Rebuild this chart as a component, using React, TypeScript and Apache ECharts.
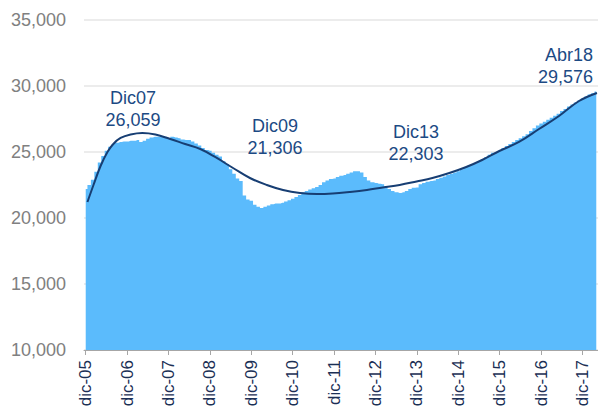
import React, { useEffect, useRef } from "react";
import * as echarts from "echarts";

// Year tick labels (every 12 months, starting at dic-05)
const tickLabels = [
  "dic-05", "dic-06", "dic-07", "dic-08", "dic-09", "dic-10", "dic-11",
  "dic-12", "dic-13", "dic-14", "dic-15", "dic-16", "dic-17",
];

// Monthly values, dic-05 .. abr-18 (149 months)
const monthlyValues = [
  22200, 22500, 22900, 23500, 24200, 24700, 25100, 25400, 25600, 25700, 25750, 25800,
  25800, 25850, 25850, 25900, 25750, 25850, 26000, 26100, 26150, 26150, 26200, 26150,
  26059, 26150, 26100, 26050, 25950, 25900, 25900, 25800, 25650, 25500, 25300, 25150,
  25100, 24950, 24800, 24650, 24300, 24100, 23700, 23350, 23000, 22800, 21700, 21400,
  21306, 21000, 20850, 20750, 20850, 20950, 21050, 21100, 21100, 21150, 21250, 21350,
  21450, 21600, 21750, 21950, 22050, 22150, 22250, 22350, 22500, 22700, 22850, 22950,
  23000, 23100, 23200, 23250, 23350, 23450, 23550, 23550, 23450, 23100, 22850, 22700,
  22650, 22600, 22550, 22400, 22200, 22050, 21950, 21900, 21950, 22050, 22200, 22300,
  22303, 22550, 22650, 22750, 22800, 22850, 22950, 23050, 23150, 23250, 23350, 23450,
  23550, 23700, 23850, 23950, 24050, 24150, 24300, 24450, 24600, 24800, 24950, 25000,
  25100, 25300, 25450, 25600, 25750, 25900, 26050, 26200, 26350, 26600, 26800, 27000,
  27150, 27300, 27450, 27600, 27750, 27900, 28100, 28250, 28450, 28600, 28750, 28900,
  29050, 29200, 29350, 29450, 29576,
];

// Trend line (polynomial-like fit) sampled at month positions
const trendMonths = [
  0.5, 2.25, 4.3, 6.3, 8.0, 10.1, 13.0, 16.4, 20.2, 24.5, 28.8, 33.2, 37.5, 42.7,
  47.6, 52.5, 57.2, 62.1, 67.0, 71.6, 76.5, 81.5, 86.1, 91.0, 95.9, 100.5, 105.4,
  110.3, 114.9, 119.9, 125.6, 131.4, 137.2, 143.0, 148.2,
];
const trendValues = [
  21212, 22500, 23940, 25000, 25606, 26061, 26326, 26440, 26326, 25985, 25606, 25227,
  24622, 23788, 23030, 22500, 22121, 21894, 21818, 21856, 21970, 22121, 22311, 22500,
  22765, 23030, 23409, 23864, 24394, 25076, 25758, 26742, 27727, 28864, 29470,
];

// Annotations
const annotationLabels = ["Dic07", "Dic09", "Dic13", "Abr18"];
const annotationValues = [26059, 21306, 22303, 29576];

const Y_MIN = 10000;
const Y_MAX = 35000;
const Y_INTERVAL = 5000;

const annotationPos = [
  { x: 133, y: 87, align: "center" },
  { x: 275, y: 115, align: "center" },
  { x: 416, y: 121, align: "center" },
  { x: 593, y: 44, align: "right" },
];

const FONT = "'Liberation Sans', Arial, Helvetica, sans-serif";

export default function App() {
  const ref = useRef<HTMLDivElement>(null);

  useEffect(() => {
    if (!ref.current) return;
    const chart = echarts.init(ref.current, undefined, { renderer: "svg" });

    const categories = monthlyValues.map((_, i) =>
      i % 12 === 0 ? tickLabels[i / 12] : ""
    );

    const fmt = (v: number) => v.toLocaleString("en-US");

    chart.setOption({
      animation: false,
      backgroundColor: "#ffffff",
      textStyle: { fontFamily: FONT },
      grid: { left: 84, right: 0, top: 20, bottom: 62, containLabel: false },
      xAxis: [
        {
          type: "category",
          data: categories,
          boundaryGap: true,
          axisLine: { show: true, lineStyle: { color: "#a6a6a6", width: 1 } },
          axisTick: {
            show: true,
            interval: 11,
            alignWithLabel: true,
            length: 5,
            lineStyle: { color: "#a6a6a6" },
          },
          axisLabel: {
            interval: 11,
            rotate: 90,
            margin: 10,
            color: "#1b2f55",
            fontSize: 17,
            fontFamily: FONT,
          },
          splitLine: { show: false },
        },
        {
          type: "value",
          show: false,
          min: -0.5,
          max: monthlyValues.length - 0.5,
        },
      ],
      yAxis: {
        type: "value",
        min: Y_MIN,
        max: Y_MAX,
        interval: Y_INTERVAL,
        axisLine: { show: false },
        axisTick: { show: false },
        axisLabel: {
          color: "#808080",
          fontSize: 18,
          margin: 18,
          fontFamily: FONT,
          formatter: (v: number) => fmt(v),
        },
        splitLine: { show: true, lineStyle: { color: "#e6e6e6", width: 1.5 } },
      },
      series: [
        {
          type: "line",
          data: monthlyValues,
          step: "middle",
          showSymbol: false,
          symbol: "none",
          lineStyle: { width: 0, color: "#5BBBFC" },
          areaStyle: { color: "#5BBBFC", opacity: 1, origin: "start" },
          silent: true,
          z: 2,
        },
        {
          type: "line",
          xAxisIndex: 1,
          data: trendMonths.map((m, i) => [m, trendValues[i]]),
          smooth: 0.4,
          showSymbol: false,
          symbol: "none",
          lineStyle: { color: "#173e73", width: 2 },
          z: 5,
        },
      ],
      graphic: annotationLabels.map((label, i) => ({
        type: "text",
        x: annotationPos[i].x,
        y: annotationPos[i].y,
        z: 10,
        style: {
          text: label + "\n" + fmt(annotationValues[i]),
          fill: "#1c4a84",
          font: `18px ${FONT}`,
          fontSize: 18,
          fontFamily: FONT,
          lineHeight: 22,
          textAlign: annotationPos[i].align,
          textVerticalAlign: "top",
        },
      })),
    });

    return () => chart.dispose();
  }, []);

  return (
    <div
      ref={ref}
      style={{ position: "fixed", left: 0, top: 0, width: 598, height: 412 }}
    />
  );
}
